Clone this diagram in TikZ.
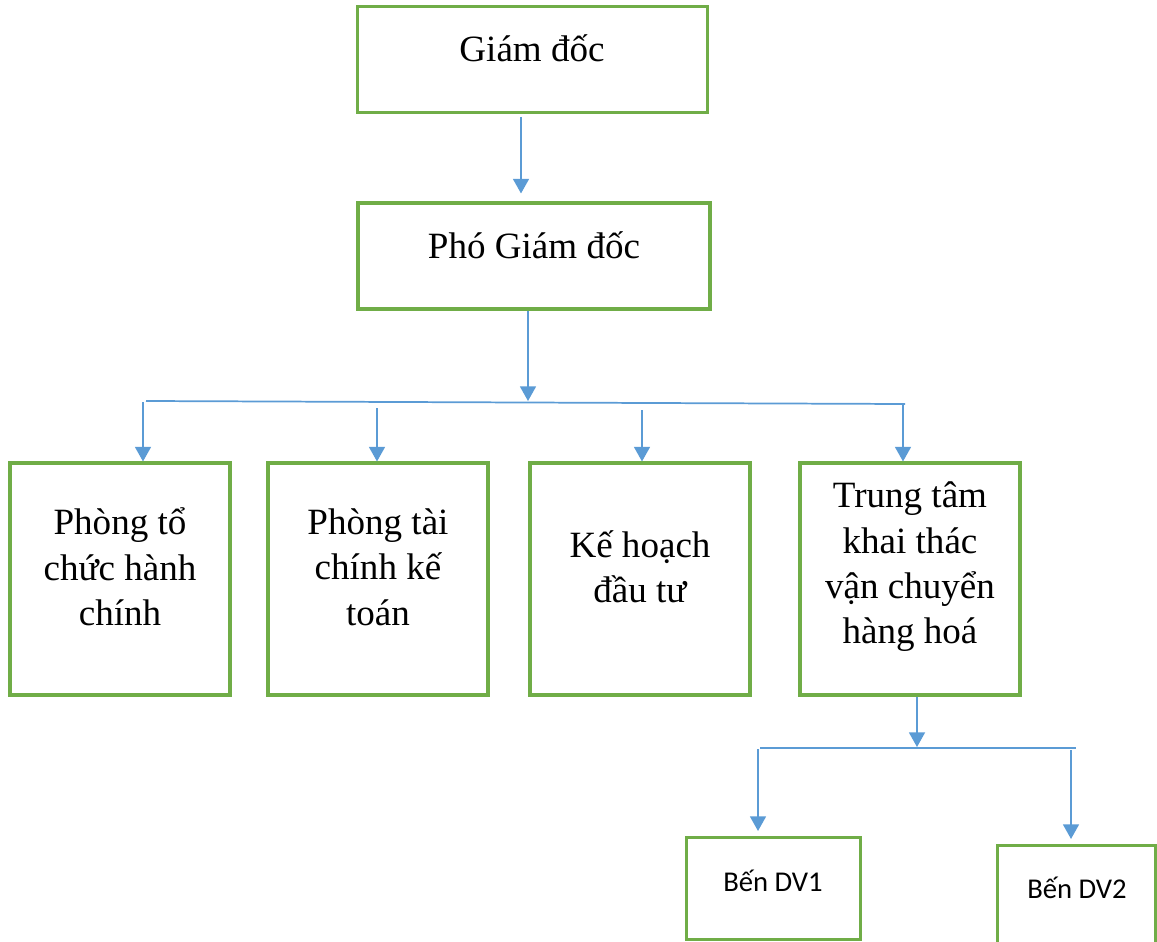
\documentclass[tikz,border=0pt]{standalone}
\usepackage{fontspec}
\setmainfont{Liberation Serif}
\newfontfamily\carlito{Carlito}
\usetikzlibrary{arrows.meta,positioning}

\definecolor{boxgreen}{RGB}{112,173,71}
\definecolor{linkblue}{RGB}{91,155,213}

\tikzset{
  unit/.style={draw=boxgreen, line width=2.3pt, inner sep=0pt},
  unittext/.style={align=center, inner sep=0pt, font=\fontsize{27.8}{34}\selectfont},
  subtext/.style={inner sep=0pt, font=\carlito\fontsize{21.5}{26}\selectfont},
  link/.style={draw=linkblue, line width=1.3pt},
  arr/.style={link, -{Triangle[width=12pt,length=11pt]}},
}

\begin{document}
\begin{tikzpicture}[x=0.75pt, y=-0.75pt]
  \clip (0,0) rectangle (1157,942);

  % Boxes
  \node[unit, minimum width=263pt, minimum height=79pt] (gd) at (532.5,59.5) {};
  \node[unit, minimum width=264pt, minimum height=79.5pt] (pgd) at (534,256) {};
  \foreach \name/\cx in {tc/120, tckt/378, khdt/640, ttkt/910} {
    \node[unit, minimum width=165pt, minimum height=174pt] (\name) at (\cx,579) {};
  }
  \node[unit, minimum width=130pt, minimum height=77pt] (dv1) at (773.5,888.5) {};
  \node[unit, minimum width=118pt, minimum height=86pt] (dv2) at (1076.5,902.5) {};

  % Texts
  \node[unittext] (gd-t) at (532,48) {Giám đốc};
  \node[unittext] (pgd-t) at (534,245) {Phó Giám đốc};
  \node[unittext] (tc-t) at (120,567) {Phòng tổ\\chức hành\\chính};
  \node[unittext] (tckt-t) at (378,567) {Phòng tài\\chính kế\\toán};
  \node[unittext] (khdt-t) at (640,567) {Kế hoạch\\đầu tư};
  \node[unittext] (ttkt-t) at (910,567) {Trung tâm\\khai thác\\vận chuyển\\hàng hoá};
  \node[subtext] (dv1-t) at (773,881) {Bến DV1};
  \node[subtext] (dv2-t) at (1077,888) {Bến DV2};

  % Connectors
  \coordinate (a0) at (521,117);
  \draw[arr, shorten >=6pt] (a0) -- (a0 |- pgd.north);
  \coordinate (hub) at (528,401);
  \draw[arr] (pgd.south -| hub) -- (hub);
  \coordinate (bus-l) at (146,401);
  \coordinate (bus-r) at (905,404);
  \draw[link] (bus-l) -- (bus-r);
  \coordinate (s1) at (143,402);
  \coordinate (s2) at (377,408);
  \coordinate (s3) at (642,410);
  \coordinate (s4) at (903,404);
  \draw[arr] (s1) -- (s1 |- tc.north);
  \draw[arr] (s2) -- (s2 |- tckt.north);
  \draw[arr] (s3) -- (s3 |- khdt.north);
  \draw[arr] (s4) -- (s4 |- ttkt.north);

  \coordinate (hub2) at (917,747);
  \draw[arr] (ttkt.south -| hub2) -- (hub2);
  \coordinate (bus2-l) at (760,748);
  \coordinate (bus2-r) at (1076,748);
  \draw[link] (bus2-l) -- (bus2-r);
  \coordinate (s5) at (758,749);
  \coordinate (s6) at (1071,750);
  \draw[arr, shorten >=3.5pt] (s5) -- (s5 |- dv1.north);
  \draw[arr, shorten >=3.5pt] (s6) -- (s6 |- dv2.north);
\end{tikzpicture}
\end{document}
